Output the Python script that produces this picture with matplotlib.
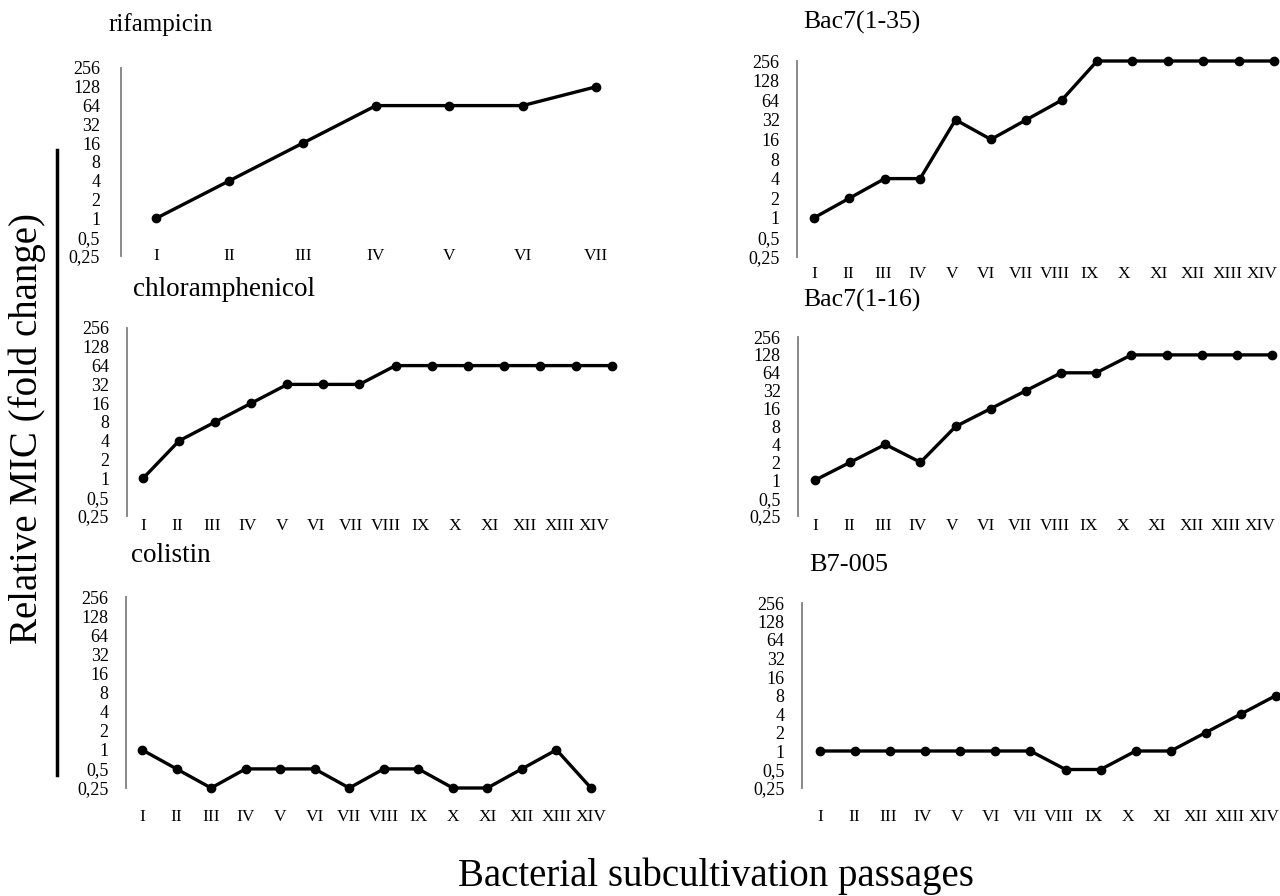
import matplotlib
matplotlib.use("Agg")
import matplotlib.pyplot as plt
from matplotlib.lines import Line2D
from matplotlib.transforms import ScaledTranslation

plt.rcParams['font.family'] = ['Liberation Serif', 'DejaVu Serif']

roman = ["I", "II", "III", "IV", "V", "VI", "VII", "VIII", "IX", "X",
         "XI", "XII", "XIII", "XIV"]
y_ticks = [0.25, 0.5, 1, 2, 4, 8, 16, 32, 64, 128, 256]
y_labels = ["0,25", "0,5", "1", "2", "4", "8", "16", "32", "64", "128", "256"]

rifampicin = [1, 4, 16, 64, 64, 64, 128]
chloramphenicol = [1, 4, 8, 16, 32, 32, 32, 64, 64, 64, 64, 64, 64, 64]
colistin = [1, 0.5, 0.25, 0.5, 0.5, 0.5, 0.25, 0.5, 0.5, 0.25, 0.25, 0.5, 1, 0.25]
bac7_1_35 = [1, 2, 4, 4, 32, 16, 32, 64, 256, 256, 256, 256, 256, 256]
bac7_1_16 = [1, 2, 4, 2, 8, 16, 32, 64, 64, 128, 128, 128, 128, 128]
b7_005 = [1, 1, 1, 1, 1, 1, 1, 0.5, 0.5, 1, 1, 2, 4, 8]

W, H = 1280, 896
fig = plt.figure(figsize=(W / 100, H / 100), dpi=100)


def px_axes(x0, x1, ytop, ybot):
    return fig.add_axes([x0 / W, 1 - ybot / H, (x1 - x0) / W, (ybot - ytop) / H])


# (title, values, spine x, right x, top y, bottom y, first pt x, last pt x,
#  xlabel pad, ylabel pad, title x, title y, title size, label drift px)
panels = [
    ("rifampicin", rifampicin, 121, 634, 68, 256, 156, 596, -5.5, 15, 108, 25, 18, 0),
    ("chloramphenicol", chloramphenicol, 126.5, 631, 328, 516, 143, 612, 1.5, 12.5, 133, 290, 19.5, -18),
    ("colistin", colistin, 126, 609, 597, 788, 142, 591, 15, 12.5, 131, 555, 19.5, 0),
    ("Bac7(1-35)", bac7_1_35, 797, 1279, 61, 257, 814, 1274, 6.5, 12.5, 803, 22, 18.5, -12),
    ("Bac7(1-16)", bac7_1_16, 798, 1279, 337, 516, 815, 1272, 1.5, 12.5, 803, 300, 18.5, -12),
    ("B7-005", b7_005, 802, 1279, 603, 788, 820, 1276, 15, 12.5, 809, 565, 19, -12),
]

for (title, vals, sx, rx, yt, yb, fx, lx, xpad, ypad, tx, ty, tsize, drift) in panels:
    ax = px_axes(sx, rx, yt, yb)
    n = len(vals)
    step = (lx - fx) / (n - 1)
    x = list(range(n))
    ax.plot(x, vals, color="black", lw=2.4, marker="o", ms=6, clip_on=False)
    ax.set_yscale("log", base=2)
    ax.set_ylim(0.25, 256)
    ax.set_xlim(-(fx - sx) / step, (n - 1) + (rx - lx) / step)
    ax.set_yticks(y_ticks)
    ax.set_yticklabels(y_labels)
    ax.minorticks_off()
    ax.set_xticks(x)
    ax.set_xticklabels(roman[:n])
    ax.tick_params(axis="x", length=0, pad=xpad, labelsize=12.5)
    ax.tick_params(axis="y", length=0, pad=ypad, labelsize=13)
    # category labels sit slightly tighter than the points, as in the original
    for i, lab in enumerate(ax.get_xticklabels()):
        dx = drift * i / (n - 1) / 100
        lab.set_transform(lab.get_transform() + ScaledTranslation(dx, 0, fig.dpi_scale_trans))
    for side in ["top", "right", "bottom"]:
        ax.spines[side].set_visible(False)
    ax.spines["left"].set_color("#7f7f7f")
    ax.spines["left"].set_linewidth(1.3)
    ax.patch.set_alpha(0)
    fig.text(tx / W, 1 - ty / H, title, fontsize=tsize, ha="left", va="center")

fig.text(27 / W, 1 - 428 / H, "Relative MIC (fold change)", fontsize=28,
         rotation=90, ha="center", va="center")
fig.add_artist(Line2D([57 / W, 57 / W], [1 - 150 / H, 1 - 775 / H],
                      transform=fig.transFigure, color="black", lw=2.5))
fig.text(716 / W, 1 - 876 / H, "Bacterial subcultivation passages", fontsize=28,
         ha="center", va="center")

fig.savefig("out.png", dpi=100)
